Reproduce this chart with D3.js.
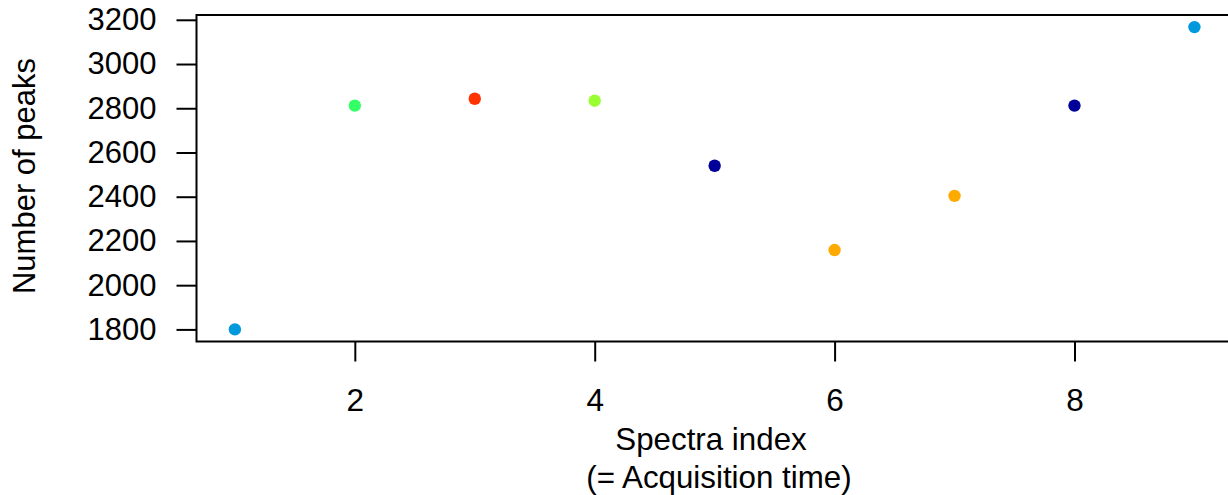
<!DOCTYPE html>
<html>
<head>
<meta charset="utf-8">
<script src="https://cdn.jsdelivr.net/npm/d3@7"></script>
<style>
  html, body { margin: 0; padding: 0; background: #fff; }
  svg { display: block; }
  text { font-family: "Liberation Sans", Arial, sans-serif; fill: #000; }
</style>
</head>
<body>
<svg id="chart" width="1228" height="495"></svg>
<script>
// ---- data ----
const spectraIndex = [1, 2, 3, 4, 5, 6, 7, 8, 9];
const numberOfPeaks = [1800, 2812, 2843, 2834, 2540, 2159, 2404, 2812, 3167];
const pointColors = ["#0099DD", "#33FF66", "#FF3300", "#99FF33", "#000099", "#FFAA00", "#FFAA00", "#000099", "#0099DD"];
const xTicks = [2, 4, 6, 8];
const yTicks = [1800, 2000, 2200, 2400, 2600, 2800, 3000, 3200];
const xTitle = ["Spectra index", "(= Acquisition time)"];
const yTitle = "Number of peaks";

// ---- layout ----
const W = 1228, H = 495;
const plot = { left: 196.5, right: 1232.8, top: 15, bottom: 341.5 };
const fontSize = 31;

const svg = d3.select("#chart");

function padded(ext) {
  const p = (ext[1] - ext[0]) * 0.04;
  return [ext[0] - p, ext[1] + p];
}

const x = d3.scaleLinear().domain(padded(d3.extent(spectraIndex))).range([plot.left, plot.right]);
const y = d3.scaleLinear().domain(padded(d3.extent(numberOfPeaks))).range([plot.bottom, plot.top]);

// points
svg.append("g").selectAll("circle")
  .data(spectraIndex.map((d, i) => ({ x: d, y: numberOfPeaks[i], c: pointColors[i] })))
  .join("circle")
  .attr("cx", d => x(d.x))
  .attr("cy", d => y(d.y))
  .attr("r", 6.2)
  .attr("fill", d => d.c);

// box
svg.append("rect")
  .attr("x", plot.left).attr("y", plot.top)
  .attr("width", plot.right - plot.left).attr("height", plot.bottom - plot.top)
  .attr("fill", "none").attr("stroke", "#000").attr("stroke-width", 2);

// y axis
const yAxis = svg.append("g")
  .attr("transform", `translate(${plot.left},0)`)
  .call(d3.axisLeft(y).tickValues(yTicks).tickSize(20).tickPadding(20).tickFormat(d3.format("d")));
yAxis.select(".domain").remove();
yAxis.selectAll(".tick line").attr("stroke", "#000").attr("stroke-width", 2);
yAxis.selectAll(".tick text")
  .attr("font-size", fontSize)
  .attr("font-family", "Liberation Sans, Arial, sans-serif")
  .attr("fill", "#000");

// x axis
const xAxis = svg.append("g")
  .attr("transform", `translate(0,${plot.bottom})`)
  .call(d3.axisBottom(x).tickValues(xTicks).tickSize(20).tickPadding(0).tickFormat(d3.format("d")));
xAxis.select(".domain").remove();
xAxis.selectAll(".tick line").attr("stroke", "#000").attr("stroke-width", 2);
xAxis.selectAll(".tick text")
  .attr("font-size", 31.5)
  .attr("font-family", "Liberation Sans, Arial, sans-serif")
  .attr("fill", "#000")
  .attr("dy", null)
  .attr("y", 411 - plot.bottom);

// x title
svg.append("text")
  .attr("x", 711).attr("y", 450)
  .attr("text-anchor", "middle")
  .attr("font-size", 31.3)
  .text(xTitle[0]);
svg.append("text")
  .attr("x", 719).attr("y", 488)
  .attr("text-anchor", "middle")
  .attr("font-size", 31.3)
  .text(xTitle[1]);

// y title
svg.append("text")
  .attr("transform", `translate(35,176) rotate(-90)`)
  .attr("text-anchor", "middle")
  .attr("font-size", fontSize)
  .text(yTitle);
</script>
</body>
</html>
